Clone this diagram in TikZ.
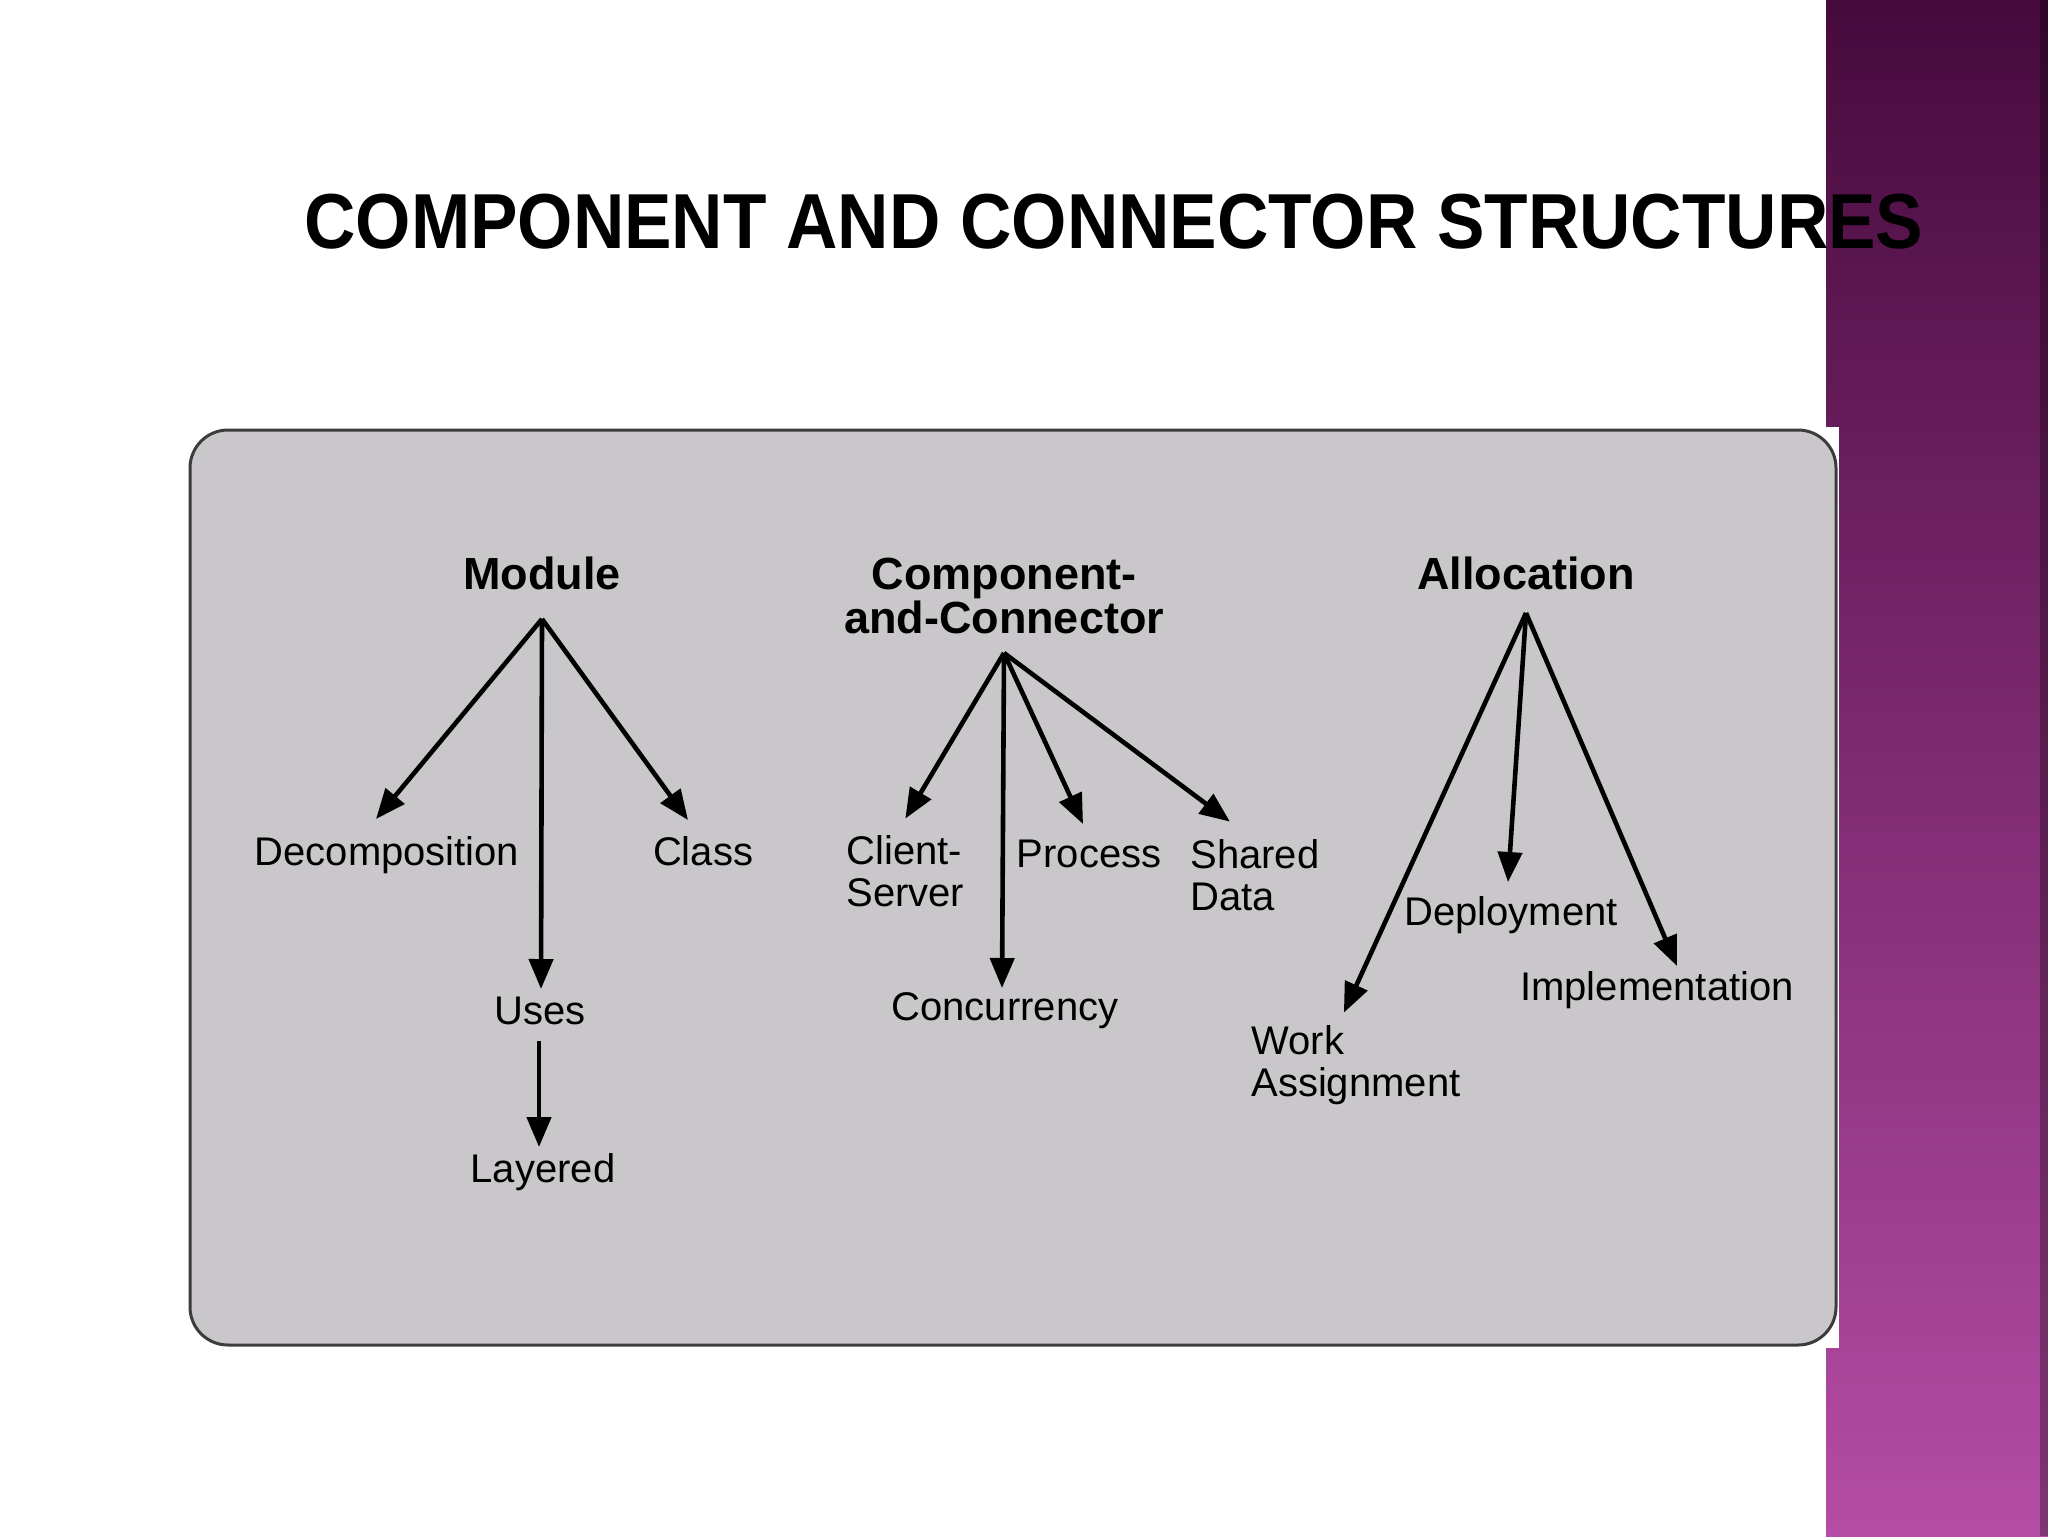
\documentclass[tikz,border=0pt]{standalone}
\usepackage{fontspec}
\setmainfont{Liberation Sans}
\usetikzlibrary{arrows.meta,calc}
\definecolor{boxgray}{HTML}{C9C7CA}
\definecolor{boxline}{HTML}{3C3C3C}
\definecolor{barTop}{HTML}{470A3D}
\definecolor{barMid}{HTML}{7B2B6C}
\definecolor{barBot}{HTML}{B54CA5}

\begin{document}
\begin{tikzpicture}[x=0.5pt, y=-0.5pt,
  head/.style={inner sep=0pt, font=\fontsize{22.5}{22}\selectfont\bfseries},
  lbl/.style={inner sep=0pt, font=\fontsize{20}{21}\selectfont},
  arr/.style={-{Triangle[length=15pt,width=12pt]}, line width=2.3pt}]
\useasboundingbox (0,0) rectangle (2048,1536);
\fill[white] (0,0) rectangle (2048,1536);
\shade[top color=barTop, middle color=barMid, bottom color=barBot] (1826,0) rectangle (2048,1536);
\fill[black, opacity=0.3] (2040,0) rectangle (2048,1536);
\fill[white] (1800,427) rectangle (1839,1348);
\draw[draw=boxline, fill=boxgray, line width=1.5pt, rounded corners=19pt] (190,430) rectangle (1836,1345);

\node[anchor=base west, inner sep=0pt, font=\fontsize{39}{39}\selectfont\bfseries] (title) at (304,248) {\scalebox{0.912}[1]{COMPONENT AND CONNECTOR STRUCTURES}};

\node[head, anchor=base] (module) at (542,589) {Module};
\node[head, anchor=base, align=center] (cc) at (1004,633) {Component-\\and-Connector};
\node[head, anchor=base] (alloc) at (1526,589) {Allocation};

\node[lbl, anchor=base] (decomp) at (387,865) {Decomposition};
\node[lbl, anchor=base] (class) at (703,865) {Class};
\node[lbl, anchor=base] (uses) at (540,1024) {Uses};
\node[lbl, anchor=base] (layered) at (543,1182) {Layered};
\node[lbl, anchor=base west, align=left] (client) at (846,906) {Client-\\Server};
\node[lbl, anchor=base] (process) at (1089,867) {Process};
\node[lbl, anchor=base west, align=left] (shared) at (1190,910) {Shared\\Data};
\node[lbl, anchor=base] (concur) at (1005,1020) {Concurrency};
\node[lbl, anchor=base] (deploy) at (1511,925) {Deployment};
\node[lbl, anchor=base] (impl) at (1657,1000) {Implementation};
\node[lbl, anchor=base west, align=left] (work) at (1251,1096) {Work\\Assignment};

\coordinate (modroot) at ($(module.base)+(0,30)$);
\coordinate (ccroot) at ($(cc.base)+(0,20)$);
\coordinate (alroot) at ($(alloc.base)+(0,24)$);

\draw[arr] (modroot) -- ($(decomp.base)+(-11,-46)$);
\draw[arr] (modroot) -- ($(class.base)+(-15,-45)$);
\draw[arr] (modroot) -- ($(uses.base)+(1,-35)$);
\draw[arr] ($(uses.base)+(-1,17)$) -- ($(layered.base)+(-4,-35)$);

\draw[arr] (ccroot) -- ($(client.north)+(0,-16)$);
\draw[arr] (ccroot) -- ($(concur.base)+(-3,-32)$);
\draw[arr] (ccroot) -- ($(process.base)+(-6,-43)$);
\draw[arr] (ccroot) -- ($(shared.north)+(-25,-17)$);

\draw[arr] (alroot) -- ($(work.north)+(-12,-12)$);
\draw[arr] (alroot) -- ($(deploy.base)+(-3,-43)$);
\draw[arr] (alroot) -- ($(impl.base)+(20,-34)$);
\end{tikzpicture}
\end{document}
